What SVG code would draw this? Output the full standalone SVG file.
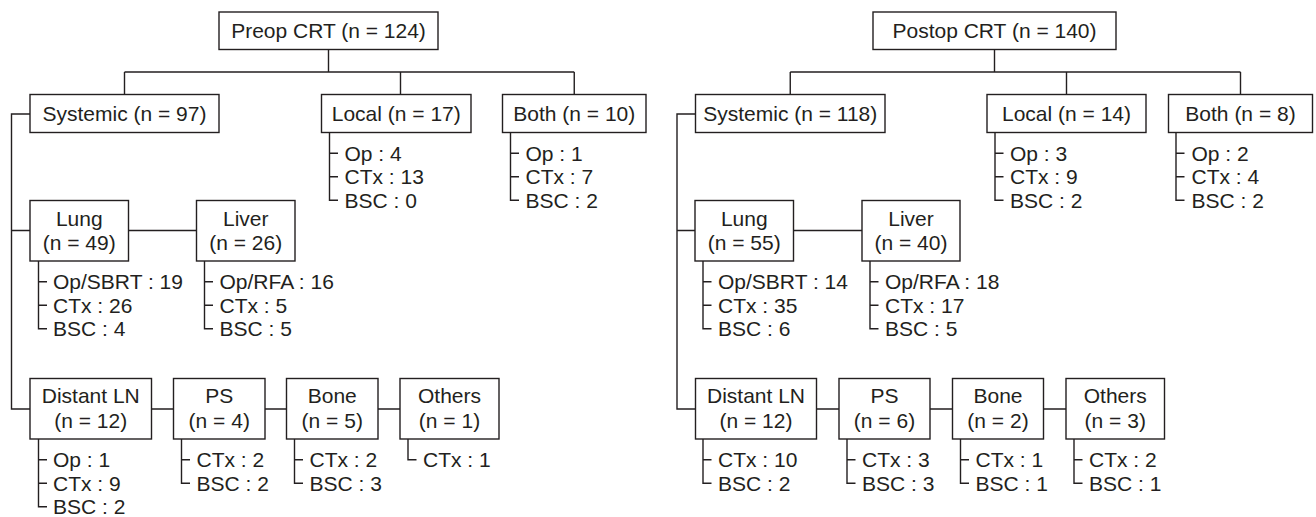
<svg xmlns="http://www.w3.org/2000/svg" width="1316" height="517" viewBox="0 0 1316 517">
<style>
  .bx{fill:#fff;stroke:#231f20;stroke-width:1.4}
  .ln{fill:none;stroke:#231f20;stroke-width:1.4}
  text{font-family:"Liberation Sans",Arial,Helvetica,sans-serif;font-size:21px;fill:#231f20}
  .c{text-anchor:middle}
</style>
<rect width="1316" height="517" fill="#fff"/>

<g id="connectors" class="ln">
  <!-- left tree -->
  <path d="M328.5,49.5V72M124.5,72H574.25M124.5,72V94.5M400.5,72V94.5M574.25,72V94.5"/>
  <path d="M30,114H11.5V409H30M11.5,230.5H30M128.5,230.5H196.5"/>
  <path d="M151.5,409H173.5M265,409H286.5M378,409H400"/>
  <!-- right tree -->
  <path d="M994.5,49.5V72M790.25,72H1240.5M790.25,72V94.5M1066.5,72V94.5M1240.5,72V94.5"/>
  <path d="M695.5,114H677V409H695.5M677,230.5H695M793.5,230.5H862"/>
  <path d="M816.5,409H839M930,409H952.5M1043.5,409H1066"/>
</g>

<!-- LEFT PANEL -->
<g id="preop">
  <rect class="bx" x="219" y="12" width="219" height="37.5"/>
  <text class="c" x="328.5" y="37.5">Preop CRT (n = 124)</text>
</g>
<g id="systemic_pre">
  <rect class="bx" x="30" y="94.5" width="189" height="38"/>
  <text class="c" x="124.5" y="120.5">Systemic (n = 97)</text>
</g>
<g id="local_pre">
  <rect class="bx" x="321.5" y="94.5" width="149.5" height="38"/>
  <text class="c" x="396.25" y="120.5">Local (n = 17)</text>
  <path class="ln" d="M329.5,132.5V200.3H338M329.5,153.3H338M329.5,176.8H338"/>
  <text x="344.5" y="160.8">Op : 4</text>
  <text x="344.5" y="184.3">CTx : 13</text>
  <text x="344.5" y="207.8">BSC : 0</text>
</g>
<g id="both_pre">
  <rect class="bx" x="502.5" y="94.5" width="143.5" height="38"/>
  <text class="c" x="574.25" y="120.5">Both (n = 10)</text>
  <path class="ln" d="M510.5,132.5V200.3H519M510.5,153.3H519M510.5,176.8H519"/>
  <text x="525.5" y="160.8">Op : 1</text>
  <text x="525.5" y="184.3">CTx : 7</text>
  <text x="525.5" y="207.8">BSC : 2</text>
</g>
<g id="lung_pre">
  <rect class="bx" x="30" y="200.5" width="98.5" height="60.5"/>
  <text class="c" x="79.25" y="225.5">Lung</text>
  <text class="c" x="79.25" y="250">(n = 49)</text>
  <path class="ln" d="M38.5,261V328.8H47M38.5,281.8H47M38.5,305.3H47"/>
  <text x="53" y="289.3">Op/SBRT : 19</text>
  <text x="53" y="312.8">CTx : 26</text>
  <text x="53" y="336.3">BSC : 4</text>
</g>
<g id="liver_pre">
  <rect class="bx" x="196.5" y="200.5" width="98.5" height="60.5"/>
  <text class="c" x="245.75" y="225.5">Liver</text>
  <text class="c" x="245.75" y="250">(n = 26)</text>
  <path class="ln" d="M204.5,261V328.8H213M204.5,281.8H213M204.5,305.3H213"/>
  <text x="219.5" y="289.3">Op/RFA : 16</text>
  <text x="219.5" y="312.8">CTx : 5</text>
  <text x="219.5" y="336.3">BSC : 5</text>
</g>
<g id="distantln_pre">
  <rect class="bx" x="30" y="378.5" width="121.5" height="60.5"/>
  <text class="c" x="90.75" y="403">Distant LN</text>
  <text class="c" x="90.75" y="427.5">(n = 12)</text>
  <path class="ln" d="M38.5,439V506.8H47M38.5,459.8H47M38.5,483.3H47"/>
  <text x="53" y="467.3">Op : 1</text>
  <text x="53" y="490.8">CTx : 9</text>
  <text x="53" y="514.3">BSC : 2</text>
</g>
<g id="ps_pre">
  <rect class="bx" x="173.5" y="378.5" width="91.5" height="60.5"/>
  <text class="c" x="219.25" y="403">PS</text>
  <text class="c" x="219.25" y="427.5">(n = 4)</text>
  <path class="ln" d="M181.5,439V483.3H190M181.5,459.8H190"/>
  <text x="196.5" y="467.3">CTx : 2</text>
  <text x="196.5" y="490.8">BSC : 2</text>
</g>
<g id="bone_pre">
  <rect class="bx" x="286.5" y="378.5" width="91.5" height="60.5"/>
  <text class="c" x="332.25" y="403">Bone</text>
  <text class="c" x="332.25" y="427.5">(n = 5)</text>
  <path class="ln" d="M294.5,439V483.3H303M294.5,459.8H303"/>
  <text x="309.5" y="467.3">CTx : 2</text>
  <text x="309.5" y="490.8">BSC : 3</text>
</g>
<g id="others_pre">
  <rect class="bx" x="400" y="378.5" width="99" height="60.5"/>
  <text class="c" x="449.5" y="403">Others</text>
  <text class="c" x="449.5" y="427.5">(n = 1)</text>
  <path class="ln" d="M408,439V459.8H416.5"/>
  <text x="423" y="467.3">CTx : 1</text>
</g>

<!-- RIGHT PANEL -->
<g id="postop">
  <rect class="bx" x="873" y="12" width="243" height="37.5"/>
  <text class="c" x="994.5" y="37.5">Postop CRT (n = 140)</text>
</g>
<g id="systemic_post">
  <rect class="bx" x="695.5" y="94.5" width="189.5" height="38"/>
  <text class="c" x="790.25" y="120.5">Systemic (n = 118)</text>
</g>
<g id="local_post">
  <rect class="bx" x="987" y="94.5" width="159" height="38"/>
  <text class="c" x="1066.5" y="120.5">Local (n = 14)</text>
  <path class="ln" d="M995,132.5V200.3H1003.5M995,153.3H1003.5M995,176.8H1003.5"/>
  <text x="1010" y="160.8">Op : 3</text>
  <text x="1010" y="184.3">CTx : 9</text>
  <text x="1010" y="207.8">BSC : 2</text>
</g>
<g id="both_post">
  <rect class="bx" x="1168.5" y="94.5" width="144" height="38"/>
  <text class="c" x="1240.5" y="120.5">Both (n = 8)</text>
  <path class="ln" d="M1176,132.5V200.3H1184.5M1176,153.3H1184.5M1176,176.8H1184.5"/>
  <text x="1191.5" y="160.8">Op : 2</text>
  <text x="1191.5" y="184.3">CTx : 4</text>
  <text x="1191.5" y="207.8">BSC : 2</text>
</g>
<g id="lung_post">
  <rect class="bx" x="695" y="200.5" width="98.5" height="60.5"/>
  <text class="c" x="744.25" y="225.5">Lung</text>
  <text class="c" x="744.25" y="250">(n = 55)</text>
  <path class="ln" d="M703,261V328.8H711.5M703,281.8H711.5M703,305.3H711.5"/>
  <text x="718" y="289.3">Op/SBRT : 14</text>
  <text x="718" y="312.8">CTx : 35</text>
  <text x="718" y="336.3">BSC : 6</text>
</g>
<g id="liver_post">
  <rect class="bx" x="862" y="200.5" width="98" height="60.5"/>
  <text class="c" x="911" y="225.5">Liver</text>
  <text class="c" x="911" y="250">(n = 40)</text>
  <path class="ln" d="M870,261V328.8H878.5M870,281.8H878.5M870,305.3H878.5"/>
  <text x="885" y="289.3">Op/RFA : 18</text>
  <text x="885" y="312.8">CTx : 17</text>
  <text x="885" y="336.3">BSC : 5</text>
</g>
<g id="distantln_post">
  <rect class="bx" x="695.5" y="378.5" width="121" height="60.5"/>
  <text class="c" x="756" y="403">Distant LN</text>
  <text class="c" x="756" y="427.5">(n = 12)</text>
  <path class="ln" d="M703,439V483.3H711.5M703,459.8H711.5"/>
  <text x="718" y="467.3">CTx : 10</text>
  <text x="718" y="490.8">BSC : 2</text>
</g>
<g id="ps_post">
  <rect class="bx" x="839" y="378.5" width="91" height="60.5"/>
  <text class="c" x="884.5" y="403">PS</text>
  <text class="c" x="884.5" y="427.5">(n = 6)</text>
  <path class="ln" d="M847,439V483.3H855.5M847,459.8H855.5"/>
  <text x="862" y="467.3">CTx : 3</text>
  <text x="862" y="490.8">BSC : 3</text>
</g>
<g id="bone_post">
  <rect class="bx" x="952.5" y="378.5" width="91" height="60.5"/>
  <text class="c" x="998" y="403">Bone</text>
  <text class="c" x="998" y="427.5">(n = 2)</text>
  <path class="ln" d="M960.5,439V483.3H969M960.5,459.8H969"/>
  <text x="975.5" y="467.3">CTx : 1</text>
  <text x="975.5" y="490.8">BSC : 1</text>
</g>
<g id="others_post">
  <rect class="bx" x="1066" y="378.5" width="98.5" height="60.5"/>
  <text class="c" x="1115.25" y="403">Others</text>
  <text class="c" x="1115.25" y="427.5">(n = 3)</text>
  <path class="ln" d="M1074,439V483.3H1082.5M1074,459.8H1082.5"/>
  <text x="1089" y="467.3">CTx : 2</text>
  <text x="1089" y="490.8">BSC : 1</text>
</g>
</svg>
